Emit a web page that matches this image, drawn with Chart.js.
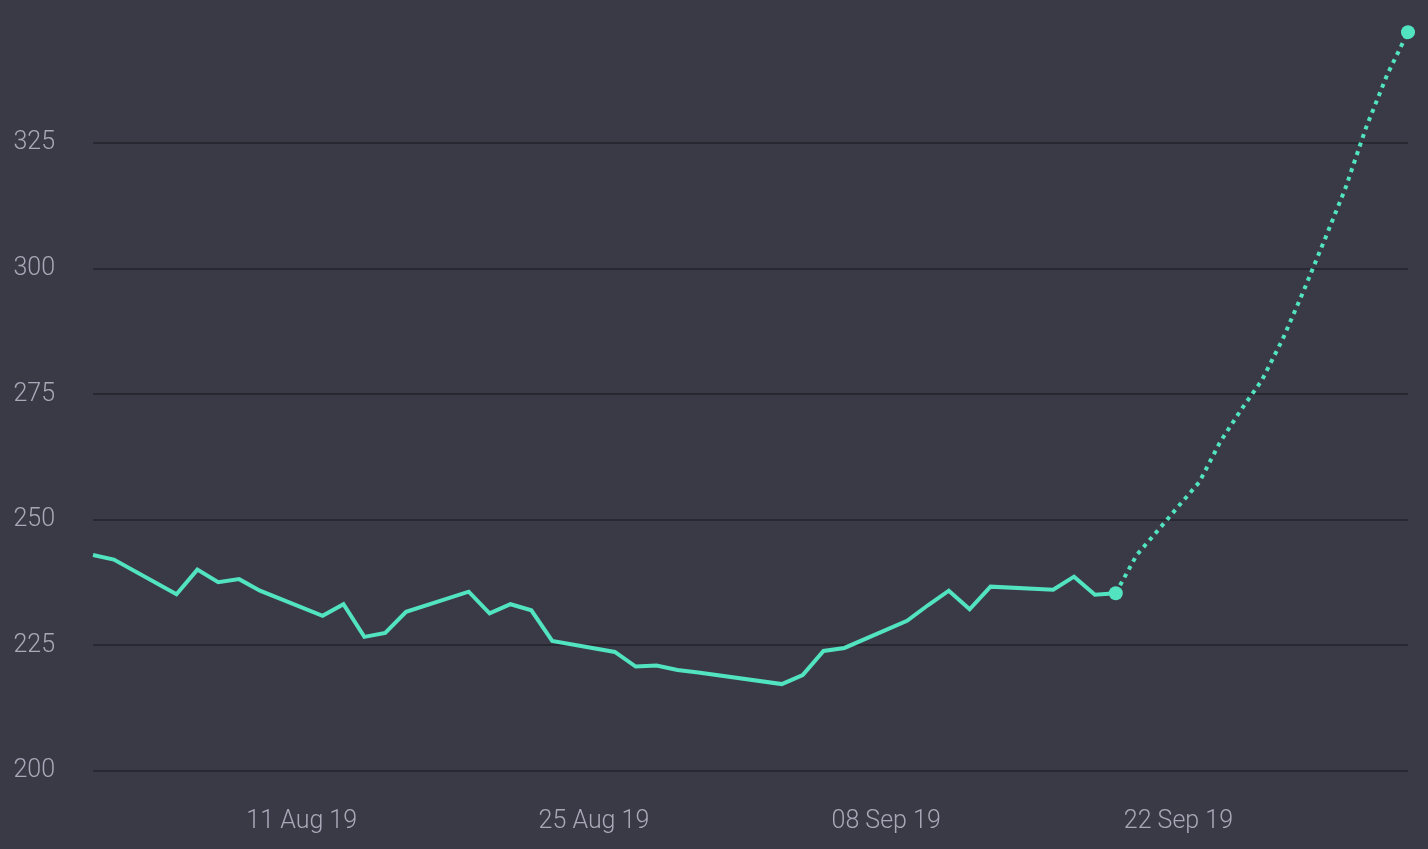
<!DOCTYPE html>
<html>
<head>
<meta charset="utf-8">
<script src="https://cdn.jsdelivr.net/npm/chart.js@4"></script>
<style>
  html, body { margin: 0; padding: 0; background: #3a3a47; }
  #wrap { width: 1428px; height: 849px; }
</style>
</head>
<body>
<div id="wrap"><canvas id="priceChart"></canvas></div>
<script>
// Dias contados a partir de 01 Aug 19 (dia 0)
const histDays = [0, 1, 4, 5, 6, 7, 8, 11, 12, 13, 14, 15, 18, 19, 20, 21, 22,
  25, 26, 27, 28, 29, 33, 34, 35, 36, 39, 40, 41, 42, 43, 46, 47, 48, 49];
const histValues = [243.0, 242.1, 235.2, 240.1, 237.6, 238.2, 235.9, 230.9, 233.2, 226.7, 227.5, 231.7, 235.7,
  231.4, 233.2, 232.0, 225.9, 223.7, 220.8, 221.0, 220.1, 219.6, 217.3, 219.1, 223.9, 224.5,
  229.9, 233.0, 235.9, 232.2, 236.7, 236.1, 238.7, 235.1, 235.4];

const forecastDays = [49, 50, 51, 52, 53, 54, 55, 56, 57, 58, 59, 60, 61, 62, 63];
const forecastValues = [235.4, 243.0, 247.8, 252.7, 257.5, 265.5, 271.9, 277.8, 286.0, 295.6,
  305.7, 316.0, 328.2, 338.6, 347.1];

const xTickDays = [10, 24, 38, 52];
const xTickLabels = ['11 Aug 19', '25 Aug 19', '08 Sep 19', '22 Sep 19'];
const yTicks = [200, 225, 250, 275, 300, 325];

const lineColor = '#52e3c0';
const labelFont = { family: "Roboto, 'Noto Sans', sans-serif", size: 25, weight: '300' };

const toPoints = (xs, ys) => xs.map((x, i) => ({ x: x, y: ys[i] }));

const ctx = document.getElementById('priceChart').getContext('2d');
const priceChart = new Chart(ctx, {
  type: 'line',
  data: {
    datasets: [
      {
        label: 'Histórico',
        data: toPoints(histDays, histValues),
        borderColor: lineColor,
        backgroundColor: lineColor,
        borderWidth: 4,
        tension: 0,
        clip: false,
        pointRadius: histDays.map((d, i) => i === histDays.length - 1 ? 7 : 0),
        pointBorderWidth: 0
      },
      {
        label: 'Previsão',
        data: toPoints(forecastDays, forecastValues),
        borderColor: lineColor,
        backgroundColor: lineColor,
        borderWidth: 4,
        borderDash: [4, 5],
        tension: 0,
        clip: false,
        pointRadius: forecastDays.map((d, i) => i === forecastDays.length - 1 ? 7 : 0),
        pointBorderWidth: 0
      }
    ]
  },
  options: {
    responsive: true,
    maintainAspectRatio: false,
    animation: false,
    layout: { autoPadding: false, padding: { left: 0, right: 20, top: 0, bottom: 0 } },
    plugins: {
      legend: { display: false },
      tooltip: { enabled: false }
    },
    scales: {
      x: {
        type: 'linear',
        min: 0,
        max: 63,
        bounds: 'data',
        grid: { display: false },
        border: { display: false },
        afterBuildTicks: (scale) => {
          scale.ticks = xTickDays.map(v => ({ value: v }));
        },
        afterFit: (scale) => {
          scale.height = 78;
          scale.paddingLeft = 0;
          scale.paddingRight = 0;
        },
        ticks: {
          color: '#a8a8b8',
          font: labelFont,
          padding: 28,
          maxRotation: 0,
          autoSkip: false,
          callback: (value) => xTickLabels[xTickDays.indexOf(value)]
        }
      },
      y: {
        min: 200,
        max: 353.5,
        bounds: 'data',
        grid: {
          color: '#282830',
          lineWidth: 2,
          drawTicks: false
        },
        border: { display: false },
        afterBuildTicks: (scale) => {
          scale.ticks = yTicks.map(v => ({ value: v }));
        },
        afterFit: (scale) => {
          scale.width = 93;
          scale.paddingTop = 0;
          scale.paddingBottom = 0;
        },
        ticks: {
          color: '#a8a8b8',
          font: labelFont,
          padding: 38
        }
      }
    }
  }
});
</script>
</body>
</html>
